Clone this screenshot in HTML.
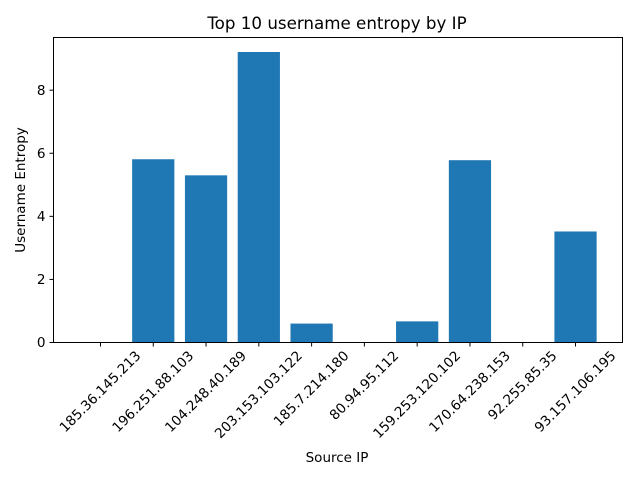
<!DOCTYPE html>
<html><head><meta charset="utf-8"><style>
body{margin:0;background:#fff}
svg{display:block;font-family:"DejaVu Sans","Liberation Sans",sans-serif}
</style></head><body>
<svg id="c" width="640" height="480">
<text x="337" y="29" text-anchor="middle" font-size="16.7">Top 10 username entropy by IP</text>
<text x="337" y="462" text-anchor="middle" font-size="13.5">Source IP</text>
<text transform="translate(25,190) rotate(-90)" text-anchor="middle" font-size="13.5">Username Entropy</text>
<g id="bars"></g><g id="xt"></g><g id="yt"></g>
<rect x="53.5" y="37.5" width="569" height="305" fill="none" stroke="#000" stroke-width="1"/>
</svg>
<script>
const categories=["185.36.145.213","196.251.88.103","104.248.40.189","203.153.103.122","185.7.214.180","80.94.95.112","159.253.120.102","170.64.238.153","92.255.85.35","93.157.106.195"];
const values=[0,5.81,5.30,9.21,0.60,0,0.67,5.78,0,3.52];
const yTicks=[0,2,4,6,8];
const L=53.5,R=622.5,T=37.5,B=342.5;
const x0=-0.89,x1=9.89,y0=0,y1=9.67;
const sx=v=>L+(v-x0)/(x1-x0)*(R-L);
const sy=v=>B-(v-y0)/(y1-y0)*(B-T);
const NS="http://www.w3.org/2000/svg";
const bars=document.getElementById('bars'),xt=document.getElementById('xt'),yt=document.getElementById('yt');
values.forEach((v,i)=>{
 const r=document.createElementNS(NS,'rect');
 r.setAttribute('x',sx(i-0.4));r.setAttribute('width',sx(i+0.4)-sx(i-0.4));
 r.setAttribute('y',sy(v));r.setAttribute('height',sy(0)-sy(v));r.setAttribute('fill','#1f77b4');
 
 
 bars.appendChild(r);
});
categories.forEach((c,i)=>{
 const x=sx(i);
 const l=document.createElementNS(NS,'line');
 l.setAttribute('x1',x);l.setAttribute('x2',x);l.setAttribute('y1',B);l.setAttribute('y2',B+4);l.setAttribute('stroke','#000');
 
 
 xt.appendChild(l);
 const t=document.createElementNS(NS,'text');
 t.setAttribute('text-anchor','middle');t.setAttribute('dominant-baseline','central');
 t.setAttribute('font-size','13.6');t.textContent=c;
 
 
 xt.appendChild(t);
 const w=t.getComputedTextLength(),h=12;
 const bh=(w+h)*0.7071;
 t.setAttribute('transform',`translate(${x},${B+7+bh/2}) rotate(-45)`);
});
yTicks.forEach(v=>{
 const y=sy(v);
 const l=document.createElementNS(NS,'line');
 l.setAttribute('x1',L-4);l.setAttribute('x2',L);l.setAttribute('y1',y);l.setAttribute('y2',y);l.setAttribute('stroke','#000');
 
 
 yt.appendChild(l);
 const t=document.createElementNS(NS,'text');
 t.setAttribute('x',L-8);t.setAttribute('y',y+4.7);t.setAttribute('text-anchor','end');t.setAttribute('font-size','13.6');t.textContent=v;
 
 
 yt.appendChild(t);
});
</script>
</body></html>
